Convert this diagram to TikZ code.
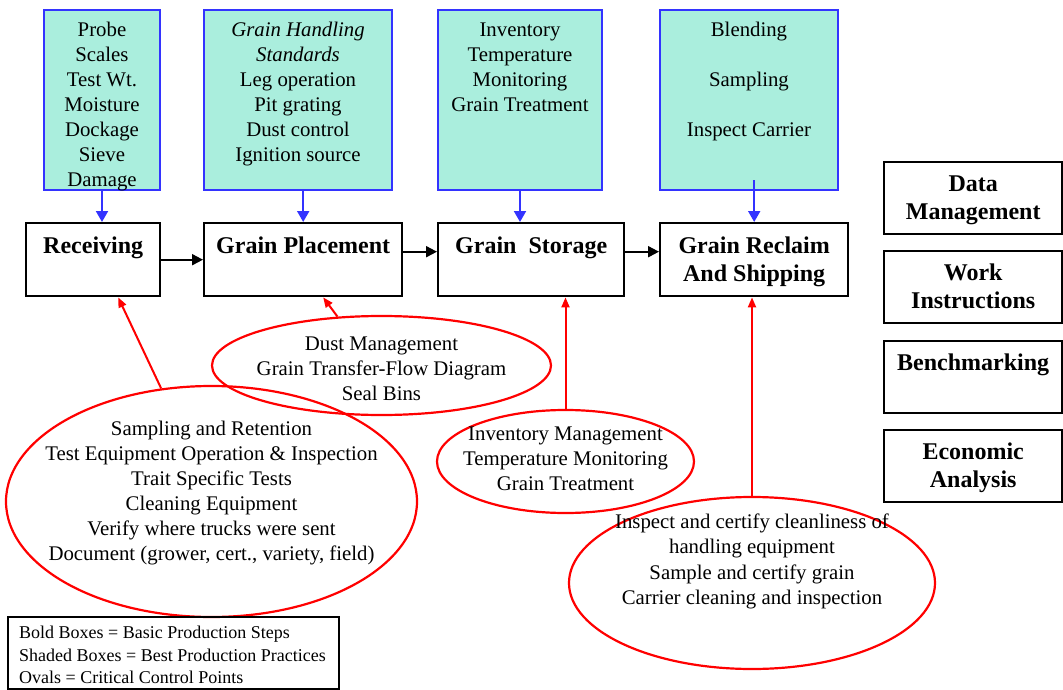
\documentclass[tikz,border=0pt]{standalone}
\usepackage{fontspec}
\setmainfont{Liberation Serif}
\usetikzlibrary{shapes.geometric,arrows.meta}
\definecolor{mint}{RGB}{170,238,221}
\definecolor{boxblue}{RGB}{51,51,255}
\tikzset{shaded/.style={draw=boxblue,fill=mint,line width=2pt,anchor=north west,inner sep=0},
  stepbox/.style={draw,line width=2.4pt,anchor=north west,inner sep=0},
  ccp/.style={ellipse,draw=red,line width=2.2pt,inner sep=0},
  txt/.style={align=center,inner sep=0,anchor=north,font=\fontsize{20.8}{25}\selectfont},
  btxt/.style={align=center,inner sep=0,anchor=north,font=\bfseries\fontsize{24}{28}\selectfont},
  bluearr/.style={boxblue,line width=2pt,-{Triangle[length=11pt,width=12pt]}},
  redarr/.style={red,line width=2pt,-{Triangle[length=10pt,width=8pt]}}}

\begin{document}
\begin{tikzpicture}[x=1pt,y=-1pt,>={Triangle[length=11pt,width=11pt]}]
    \useasboundingbox (0,0) rectangle (1063,690);

    \node[shaded,minimum width=116,minimum height=180] (shA) at (43,9) {};
    \node[shaded,minimum width=188,minimum height=180] (shB) at (203,9) {};
    \node[shaded,minimum width=164,minimum height=180] (shC) at (437,9) {};
    \node[shaded,minimum width=178,minimum height=180] (shD) at (659,9) {};
    \node[txt] (shAtxt) at ([yshift=-9.5pt]shA.north) {\strut Probe\\Scales\\Test Wt.\\Moisture\\Dockage\\Sieve\\Damage};
    \node[txt] (shBtxt) at ([yshift=-9.5pt]shB.north) {\strut\textit{Grain Handling}\\\textit{Standards}\\Leg operation\\Pit grating\\Dust control\\Ignition source};
    \node[txt] (shCtxt) at ([yshift=-9.5pt]shC.north) {\strut Inventory\\Temperature\\Monitoring\\Grain Treatment};
    \node[txt] (shDtxt) at ([yshift=-9.5pt]shD.north) {\strut Blending\\[25pt]Sampling\\[25pt]Inspect Carrier};

    \node[stepbox,minimum width=134,minimum height=73] (recv) at (25,222) {};
    \node[stepbox,minimum width=198,minimum height=73] (place) at (203,222) {};
    \node[stepbox,minimum width=186,minimum height=73] (stor) at (437,222) {};
    \node[stepbox,minimum width=188,minimum height=73] (recl) at (659,222) {};
    \node[btxt] (recvtxt) at ([yshift=-11.4pt]recv.north) {\strut Receiving};
    \node[btxt] (placetxt) at ([yshift=-11.4pt]place.north) {\strut Grain Placement};
    \node[btxt] (stortxt) at ([yshift=-11.4pt]stor.north) {\strut Grain \ Storage};
    \node[btxt] (recltxt) at ([yshift=-11.4pt]recl.north) {\strut Grain Reclaim\\And Shipping};

    \node[stepbox,minimum width=178,minimum height=72] (data) at (883,161) {};
    \node[stepbox,minimum width=178,minimum height=72] (work) at (883,250) {};
    \node[stepbox,minimum width=178,minimum height=72] (bench) at (883,340) {};
    \node[stepbox,minimum width=178,minimum height=72] (econ) at (883,429) {};
    \node[btxt] (datatxt) at ([yshift=-10.5pt]data.north) {\strut Data\\Management};
    \node[btxt] (worktxt) at ([yshift=-10.5pt]work.north) {\strut Work\\Instructions};
    \node[btxt] (benchtxt) at ([yshift=-10.5pt]bench.north) {\strut Benchmarking};
    \node[btxt] (econtxt) at ([yshift=-10.5pt]econ.north) {\strut Economic\\Analysis};

    \node[ccp,minimum width=411,minimum height=231] (recvcp) at (211.5,501.5) {};
    \node[ccp,minimum width=339,minimum height=99] (dustcp) at (381.5,365.5) {};
    \node[ccp,minimum width=257,minimum height=103] (invcp) at (565.5,461.5) {};
    \node[ccp,minimum width=366,minimum height=172] (shipcp) at (752,583) {};
    \node[txt] (recvcptxt) at (211.5,417.5) {\strut Sampling and Retention\\Test Equipment Operation \& Inspection\\Trait Specific Tests\\Cleaning Equipment\\Verify where trucks were sent\\Document (grower, cert., variety, field)};
    \node[txt] (dustcptxt) at (381.5,332.5) {\strut Dust Management\\Grain Transfer-Flow Diagram\\Seal Bins};
    \node[txt] (invcptxt) at (565.5,422.5) {\strut Inventory Management\\Temperature Monitoring\\Grain Treatment};
    \node[txt,font=\fontsize{20.8}{25.3}\selectfont] (shipcptxt) at (752,510.5) {\strut Inspect and certify cleanliness of\\handling equipment\\Sample and certify grain\\Carrier cleaning and inspection};

    \draw[line width=2pt] (8,617) rectangle (339,689);
    \node[anchor=north west,align=left,inner sep=0,font=\fontsize{18}{22.5}\selectfont] (legend) at (19,622.8) {\strut Bold Boxes = Basic Production Steps\\Shaded Boxes = Best Production Practices\\Ovals = Critical Control Points};

    \draw[bluearr] (shA.south) -- (shA.south |- recv.north);
    \draw[bluearr] (place.north |- shB.south) -- (place.north);
    \draw[bluearr] (shC.south) -- (shC.south |- stor.north);
    \draw[bluearr] ([yshift=11pt]shD.south -| recl.north) -- (recl.north);

    \draw[->,line width=2pt] (recv.east) -- (recv.east -| place.west);
    \draw[->,line width=2pt] ([yshift=8pt]place.east) -- ([yshift=8pt]stor.west);
    \draw[->,line width=2pt] ([yshift=8pt]stor.east) -- ([yshift=8pt]recl.west);

    \draw[redarr] (recvcp.114) -- ([xshift=25pt]recv.south);
    \draw[redarr] (dustcp.132) -- ([xshift=20pt]place.south);
    \draw[redarr] (invcp.north) -- (invcp.north |- stor.south);
    \draw[redarr] (shipcp.north) -- (shipcp.north |- recl.south);
\end{tikzpicture}
\end{document}
